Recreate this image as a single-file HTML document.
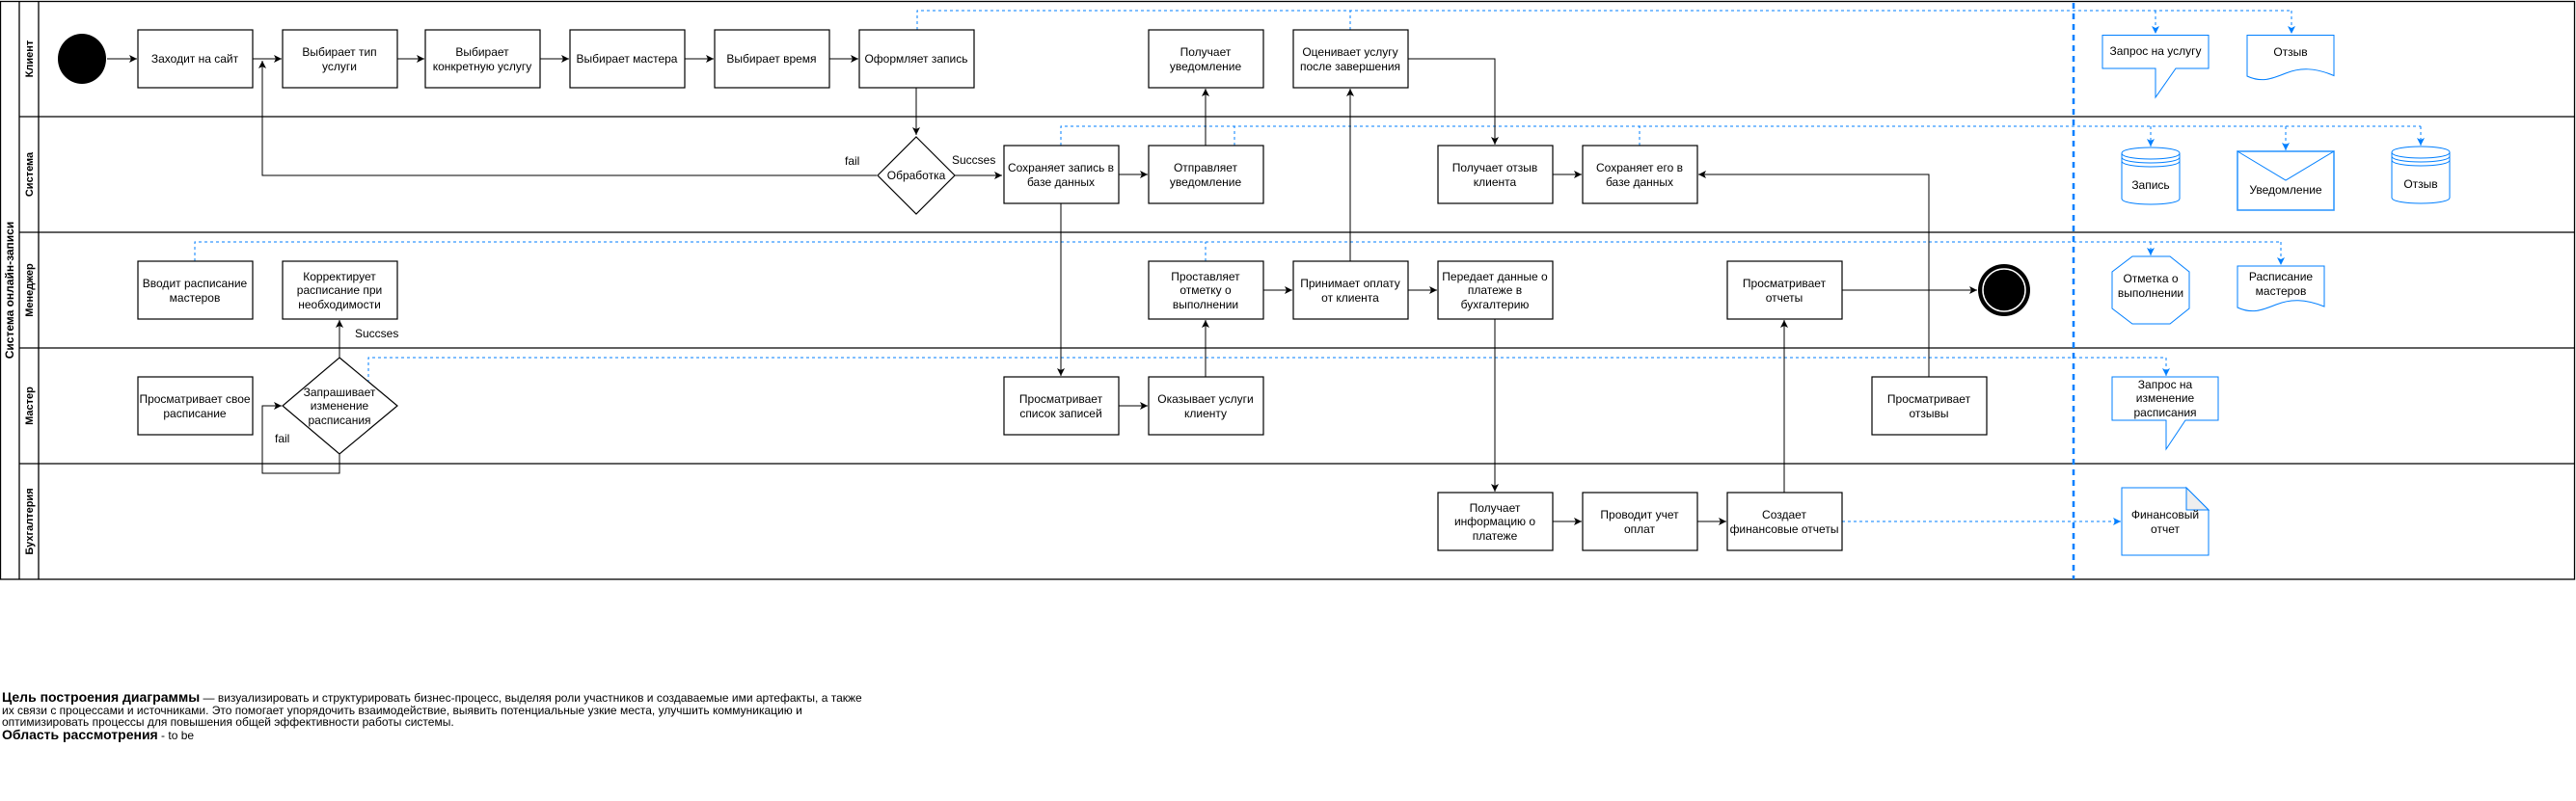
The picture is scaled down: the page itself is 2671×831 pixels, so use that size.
<!DOCTYPE html>
<html><head><meta charset="utf-8"><style>
body{margin:0;background:#fff;width:2671px;height:831px;overflow:hidden;position:relative;font-family:"Liberation Sans",Arial,sans-serif}
svg{position:absolute;left:0;top:0}
.p{position:absolute;left:2px;top:716px;white-space:nowrap;font-size:12px;line-height:12px;color:#000}
.p b{font-size:14px;line-height:15px}
</style></head><body>
<svg width="2671" height="831" viewBox="0 0 2671 831" font-family="Liberation Sans, Arial, sans-serif" font-size="12">
<defs>
<marker id="a" markerWidth="10" markerHeight="10" refX="8" refY="5" orient="auto" markerUnits="userSpaceOnUse"><path d="M0,1 L8,5 L0,9 L2,5 z" fill="#000"/></marker>
<marker id="b" markerWidth="10" markerHeight="10" refX="8" refY="5" orient="auto" markerUnits="userSpaceOnUse"><path d="M0,1 L8,5 L0,9 L2,5 z" fill="#007FFF"/></marker>
</defs>
<g fill="none" stroke="#000" stroke-width="1.3">
<rect x="0.5" y="1.5" width="2669" height="599.5"/>
<line x1="20" y1="1" x2="20" y2="601"/>
<line x1="40" y1="1" x2="40" y2="601"/>
<line x1="20" y1="121" x2="2670" y2="121"/>
<line x1="20" y1="241" x2="2670" y2="241"/>
<line x1="20" y1="361" x2="2670" y2="361"/>
<line x1="20" y1="481" x2="2670" y2="481"/>
</g>
<g font-weight="bold" font-size="11" text-anchor="middle">
<text transform="translate(14,301) rotate(-90)" font-size="12">Система онлайн-записи</text>
<text transform="translate(34,61) rotate(-90)">Клиент</text>
<text transform="translate(34,181) rotate(-90)">Система</text>
<text transform="translate(34,301) rotate(-90)">Менеджер</text>
<text transform="translate(34,421) rotate(-90)">Мастер</text>
<text transform="translate(34,541) rotate(-90)">Бухгалтерия</text>
</g>
<g fill="none" stroke="#007FFF" stroke-width="1" stroke-dasharray="3,3">
<line x1="2150" y1="3" x2="2150" y2="601" stroke-width="2.5" stroke-dasharray="6,5"/>
<polyline points="951,31 951,11 2376,11"/>
<line x1="1400" y1="31" x2="1400" y2="11"/>
<line x1="2235" y1="11" x2="2235" y2="35" marker-end="url(#b)"/>
<line x1="2376" y1="11" x2="2376" y2="35" marker-end="url(#b)"/>
<polyline points="1100,151 1100,131 2510,131"/>
<line x1="1280" y1="151" x2="1280" y2="131"/>
<line x1="1700" y1="151" x2="1700" y2="131"/>
<line x1="2230" y1="131" x2="2230" y2="152" marker-end="url(#b)"/>
<line x1="2370" y1="131" x2="2370" y2="156" marker-end="url(#b)"/>
<line x1="2510" y1="131" x2="2510" y2="151" marker-end="url(#b)"/>
<polyline points="202,271 202,251 2365,251"/>
<line x1="1250" y1="271" x2="1250" y2="251"/>
<line x1="2230" y1="251" x2="2230" y2="265" marker-end="url(#b)"/>
<line x1="2365" y1="251" x2="2365" y2="275" marker-end="url(#b)"/>
<polyline points="382,397 382,371 2246,371"/>
<line x1="2246" y1="371" x2="2246" y2="390" marker-end="url(#b)"/>
<line x1="1910" y1="541" x2="2199" y2="541" marker-end="url(#b)"/>
</g>
<g fill="none" stroke="#000" stroke-width="1">
<line x1="111" y1="61" x2="142" y2="61" marker-end="url(#a)"/>
<line x1="262" y1="61" x2="292" y2="61" marker-end="url(#a)"/>
<line x1="412" y1="61" x2="440" y2="61" marker-end="url(#a)"/>
<line x1="560" y1="61" x2="590" y2="61" marker-end="url(#a)"/>
<line x1="710" y1="61" x2="740" y2="61" marker-end="url(#a)"/>
<line x1="860" y1="61" x2="890" y2="61" marker-end="url(#a)"/>
<line x1="950" y1="91" x2="950" y2="140" marker-end="url(#a)"/>
<polyline points="909,182 272,182 272,63" marker-end="url(#a)"/>
<line x1="990" y1="182" x2="1039" y2="182" marker-end="url(#a)"/>
<line x1="1160" y1="181" x2="1190" y2="181" marker-end="url(#a)"/>
<line x1="1250" y1="151" x2="1250" y2="92" marker-end="url(#a)"/>
<line x1="1100" y1="211" x2="1100" y2="390" marker-end="url(#a)"/>
<line x1="1160" y1="421" x2="1190" y2="421" marker-end="url(#a)"/>
<line x1="1250" y1="391" x2="1250" y2="332" marker-end="url(#a)"/>
<line x1="1310" y1="301" x2="1340" y2="301" marker-end="url(#a)"/>
<line x1="1460" y1="301" x2="1490" y2="301" marker-end="url(#a)"/>
<line x1="1400" y1="271" x2="1400" y2="92" marker-end="url(#a)"/>
<polyline points="1460,61 1550,61 1550,150" marker-end="url(#a)"/>
<line x1="1610" y1="181" x2="1640" y2="181" marker-end="url(#a)"/>
<polyline points="2000,391 2000,181 1761,181" marker-end="url(#a)"/>
<line x1="1550" y1="331" x2="1550" y2="510" marker-end="url(#a)"/>
<line x1="1610" y1="541" x2="1640" y2="541" marker-end="url(#a)"/>
<line x1="1760" y1="541" x2="1790" y2="541" marker-end="url(#a)"/>
<line x1="1850" y1="511" x2="1850" y2="332" marker-end="url(#a)"/>
<line x1="1910" y1="301" x2="2050" y2="301" marker-end="url(#a)"/>
<line x1="352" y1="371" x2="352" y2="332" marker-end="url(#a)"/>
<polyline points="352,471 352,491 272,491 272,421 292,421" marker-end="url(#a)"/>
</g>
<ellipse cx="85" cy="61" rx="25" ry="26" fill="#000"/>
<circle cx="2078" cy="301" r="27" fill="#000"/>
<circle cx="2078" cy="301" r="22" fill="none" stroke="#fff" stroke-width="1.5"/>
<g fill="#fff" stroke="#000" stroke-width="1.2">
<rect x="143" y="31" width="119" height="60"/><rect x="293" y="31" width="119" height="60"/>
<rect x="441" y="31" width="119" height="60"/><rect x="591" y="31" width="119" height="60"/>
<rect x="741" y="31" width="119" height="60"/><rect x="891" y="31" width="119" height="60"/>
<rect x="1191" y="31" width="119" height="60"/><rect x="1341" y="31" width="119" height="60"/>
<polygon points="950,142 990,182 950,222 910,182"/>
<rect x="1041" y="151" width="119" height="60"/><rect x="1191" y="151" width="119" height="60"/>
<rect x="1491" y="151" width="119" height="60"/><rect x="1641" y="151" width="119" height="60"/>
<rect x="143" y="271" width="119" height="60"/><rect x="293" y="271" width="119" height="60"/>
<rect x="1191" y="271" width="119" height="60"/><rect x="1341" y="271" width="119" height="60"/>
<rect x="1491" y="271" width="119" height="60"/><rect x="1791" y="271" width="119" height="60"/>
<rect x="143" y="391" width="119" height="60"/>
<polygon points="352,371 412,421 352,471 293,421"/>
<rect x="1041" y="391" width="119" height="60"/><rect x="1191" y="391" width="119" height="60"/>
<rect x="1941" y="391" width="119" height="60"/>
<rect x="1491" y="511" width="119" height="60"/><rect x="1641" y="511" width="119" height="60"/>
<rect x="1791" y="511" width="119" height="60"/>
</g>
<g text-anchor="middle" font-size="12">
<text x="202" y="65">Заходит на сайт</text>
<text x="352" y="58">Выбирает тип<tspan x="352" dy="15">услуги</tspan></text>
<text x="500" y="58">Выбирает<tspan x="500" dy="15">конкретную услугу</tspan></text>
<text x="650" y="65">Выбирает мастера</text>
<text x="800" y="65">Выбирает время</text>
<text x="950" y="65">Оформляет запись</text>
<text x="1250" y="58">Получает<tspan x="1250" dy="15">уведомление</tspan></text>
<text x="1400" y="58">Оценивает услугу<tspan x="1400" dy="15">после завершения</tspan></text>
<text x="950" y="186">Обработка</text>
<text x="1100" y="178">Сохраняет запись в<tspan x="1100" dy="15">базе данных</tspan></text>
<text x="1250" y="178">Отправляет<tspan x="1250" dy="15">уведомление</tspan></text>
<text x="1550" y="178">Получает отзыв<tspan x="1550" dy="15">клиента</tspan></text>
<text x="1700" y="178">Сохраняет его в<tspan x="1700" dy="15">базе данных</tspan></text>
<text x="202" y="298">Вводит расписание<tspan x="202" dy="15">мастеров</tspan></text>
<text x="352" y="291">Корректирует<tspan x="352" dy="14">расписание при</tspan><tspan x="352" dy="15">необходимости</tspan></text>
<text x="1250" y="291">Проставляет<tspan x="1250" dy="14">отметку о</tspan><tspan x="1250" dy="15">выполнении</tspan></text>
<text x="1400" y="298">Принимает оплату<tspan x="1400" dy="15">от клиента</tspan></text>
<text x="1550" y="291">Передает данные о<tspan x="1550" dy="14">платеже в</tspan><tspan x="1550" dy="15">бухгалтерию</tspan></text>
<text x="1850" y="298">Просматривает<tspan x="1850" dy="15">отчеты</tspan></text>
<text x="202" y="418">Просматривает свое<tspan x="202" dy="15">расписание</tspan></text>
<text x="352" y="411">Запрашивает<tspan x="352" dy="14">изменение</tspan><tspan x="352" dy="15">расписания</tspan></text>
<text x="1100" y="418">Просматривает<tspan x="1100" dy="15">список записей</tspan></text>
<text x="1250" y="418">Оказывает услуги<tspan x="1250" dy="15">клиенту</tspan></text>
<text x="2000" y="418">Просматривает<tspan x="2000" dy="15">отзывы</tspan></text>
<text x="1550" y="531">Получает<tspan x="1550" dy="14">информацию о</tspan><tspan x="1550" dy="15">платеже</tspan></text>
<text x="1700" y="538">Проводит учет<tspan x="1700" dy="15">оплат</tspan></text>
<text x="1850" y="538">Создает<tspan x="1850" dy="15">финансовые отчеты</tspan></text>
</g>
<g font-size="12">
<text x="876" y="171">fail</text>
<text x="987" y="170">Succses</text>
<text x="368" y="350">Succses</text>
<text x="285" y="459">fail</text>
</g>
<g fill="#fff" stroke="#007FFF" stroke-width="1">
<path d="M2180,36.5 H2290 V71 H2256 L2235,101 V71 H2180 Z"/>
<path d="M2330,36.5 H2420 V78.5 C2400,70 2385,70 2370,76 C2355,82 2345,86 2330,79 Z"/>
<path d="M2200,159 C2200,151 2260,151 2260,159 V206 C2260,214 2200,214 2200,206 Z"/>
<path d="M2200,159 C2200,167 2260,167 2260,159 M2200,163 C2200,171 2260,171 2260,163 M2200,167 C2200,175 2260,175 2260,167" fill="none"/>
<rect x="2320" y="157" width="100" height="61" stroke-width="1.6" stroke="#3399FF"/>
<polyline points="2320,157 2370,187 2420,157" fill="none"/>
<path d="M2480,158 C2480,150 2540,150 2540,158 V205 C2540,213 2480,213 2480,205 Z"/>
<path d="M2480,158 C2480,166 2540,166 2540,158 M2480,162 C2480,170 2540,170 2540,162 M2480,166 C2480,174 2540,174 2540,166" fill="none"/>
<polygon points="2211,266 2250,266 2270,282 2270,320 2250,336 2211,336 2190,320 2190,282"/>
<path d="M2320,276 H2410 V318 C2390,310 2375,310 2360,316 C2345,322 2335,326 2320,319 Z"/>
<path d="M2190,391 H2300 V436 H2266 L2246,466 V436 H2190 Z"/>
<path d="M2200,506 H2267 L2290,529 V576 H2200 Z"/>
<path d="M2267,506 V529 H2290 Z" fill="#eee"/>
</g>
<g text-anchor="middle" font-size="12" fill="#000">
<text x="2235" y="57">Запрос на услугу</text>
<text x="2375" y="58">Отзыв</text>
<text x="2230" y="196">Запись</text>
<text x="2370" y="201">Уведомление</text>
<text x="2510" y="195">Отзыв</text>
<text x="2230" y="293">Отметка о<tspan x="2230" dy="15">выполнении</tspan></text>
<text x="2365" y="291">Расписание<tspan x="2365" dy="15">мастеров</tspan></text>
<text x="2245" y="403">Запрос на<tspan x="2245" dy="14">изменение</tspan><tspan x="2245" dy="15">расписания</tspan></text>
<text x="2245" y="538">Финансовый<tspan x="2245" dy="15">отчет</tspan></text>
</g>
</svg>
<div class="p"><b>Цель построения диаграммы</b> — визуализировать и структурировать бизнес-процесс, выделяя роли участников и создаваемые ими артефакты, а также<br>их связи с процессами и источниками. Это помогает упорядочить взаимодействие, выявить потенциальные узкие места, улучшить коммуникацию и<br>оптимизировать процессы для повышения общей эффективности работы системы.<br><b>Область рассмотрения</b> - to be</div>
</body></html>
